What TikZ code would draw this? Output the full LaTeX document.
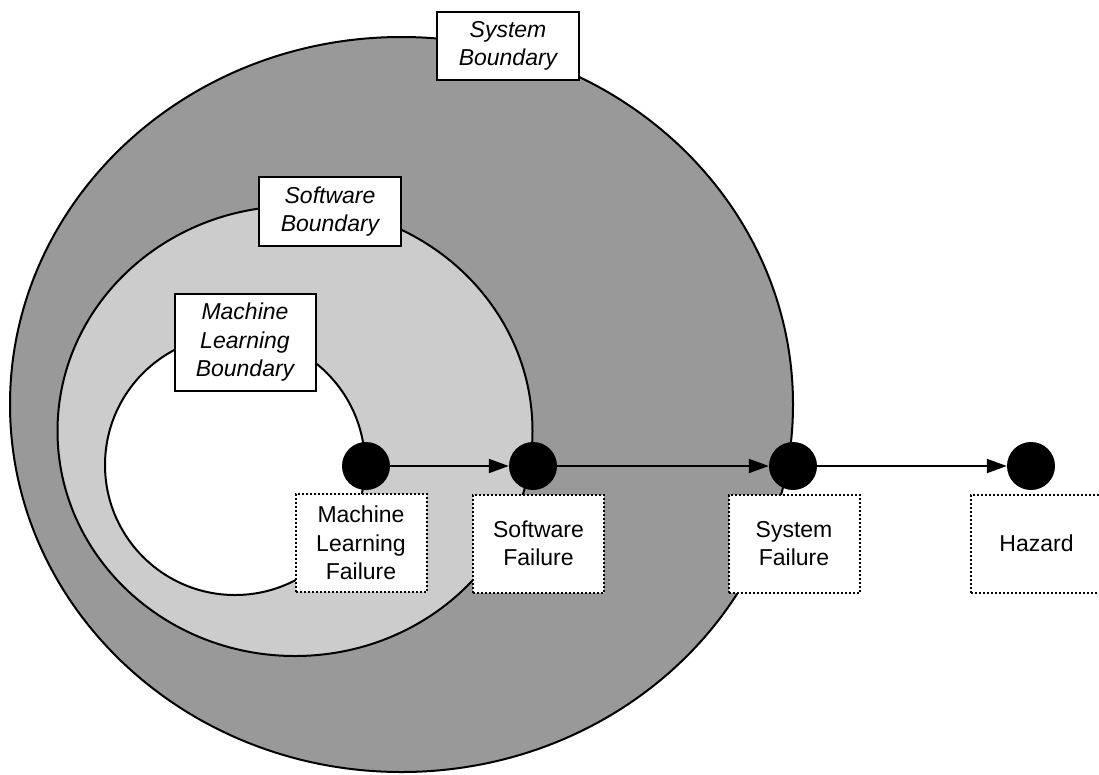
\documentclass[tikz,border=0pt]{standalone}
\usepackage{fontspec}
\setmainfont{Liberation Sans}
\usetikzlibrary{arrows.meta}
\tikzset{
  grenze/.style={draw, line width=2pt, fill=white, align=center, inner sep=0pt,
    font=\fontsize{23}{28.5}\selectfont\itshape, minimum width=142pt, minimum height=69pt},
  fehler/.style={draw, line width=2pt, dash pattern=on 2pt off 2pt, fill=white, align=center,
    inner sep=0pt, font=\fontsize{23}{28.5}\selectfont, minimum width=131pt, minimum height=98pt},
  punkt/.style={circle, fill=black, minimum size=48pt, inner sep=0pt},
  pfeil/.style={line width=2pt, -{Triangle[length=20pt, width=14pt]}}
}
\begin{document}
\begin{tikzpicture}[x=1pt, y=-1pt]
    \useasboundingbox (0,0) rectangle (1099,774);
    % Grenzen
    \filldraw[line width=2pt, fill=black!40] (401.5,404.5) ellipse [x radius=391.5pt, y radius=367.5pt];
    \filldraw[line width=2pt, fill=black!20] (295,431) ellipse [x radius=237.5pt, y radius=225pt];
    \filldraw[line width=2pt, fill=white] (235,465) circle [radius=130pt];
    % Knoten
    \node[punkt] (ml) at (366,466) {};
    \node[punkt] (sw) at (533,466) {};
    \node[punkt] (sys) at (793,466) {};
    \node[punkt] (haz) at (1031,466) {};
    % Pfeile
    \draw[pfeil] (ml) -- (sw);
    \draw[pfeil] (sw) -- (sys);
    \draw[pfeil] (sys) -- (haz);
    % Beschriftung Fehler
    \node[fehler] (mlf) at (361,543) {Machine\\Learning\\Failure};
    \node[fehler] (swf) at (538.5,543.5) {Software\\Failure};
    \node[fehler] (sysf) at (794,543.5) {System\\Failure};
    \node[fehler] (hazf) at (1036.5,543.5) {Hazard};
    % Beschriftung Grenzen
    \node[grenze, minimum height=68pt] (sysb) at (508,46) {System\\Boundary};
    \node[grenze] (swb) at (330,211.5) {Software\\Boundary};
    \node[grenze, minimum width=141pt, minimum height=97pt] (mlb) at (245,342.5) {Machine\\Learning\\Boundary};
\end{tikzpicture}
\end{document}
